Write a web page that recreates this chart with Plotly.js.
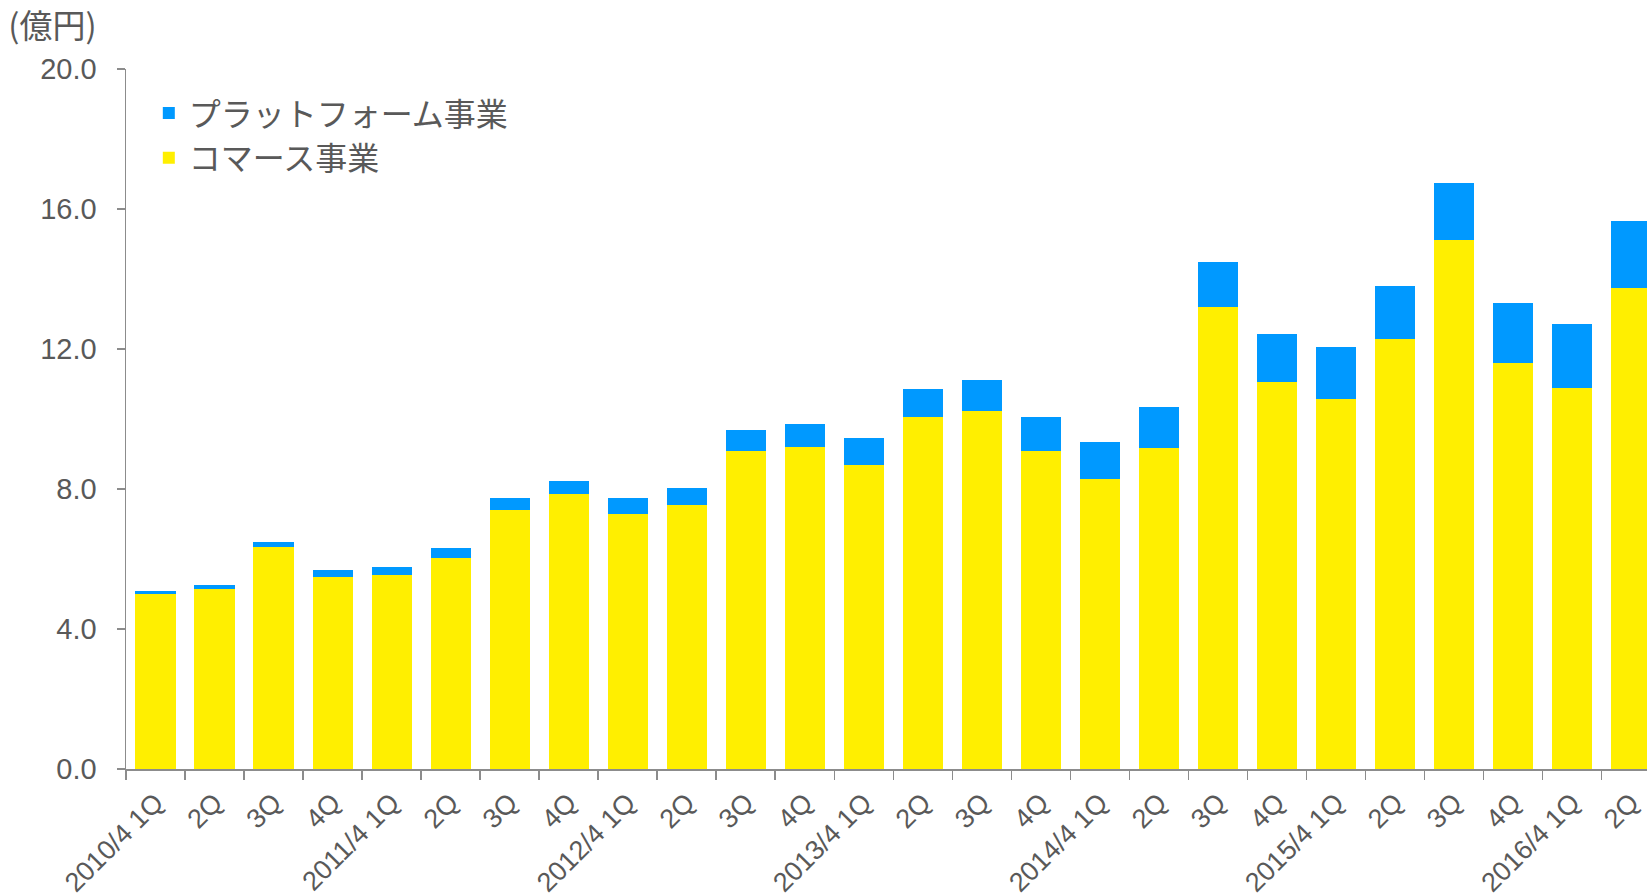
<!DOCTYPE html>
<html>
<head>
<meta charset="utf-8">
<script src="https://cdn.plot.ly/plotly-3.0.1.min.js"></script>
<style>html,body{margin:0;padding:0;background:#fff;}#chart{width:1647px;height:895px;}</style>
</head>
<body>
<div id="chart"></div>
<script>
const categories = [
  "2010/4 1Q","2010/4 2Q","2010/4 3Q","2010/4 4Q",
  "2011/4 1Q","2011/4 2Q","2011/4 3Q","2011/4 4Q",
  "2012/4 1Q","2012/4 2Q","2012/4 3Q","2012/4 4Q",
  "2013/4 1Q","2013/4 2Q","2013/4 3Q","2013/4 4Q",
  "2014/4 1Q","2014/4 2Q","2014/4 3Q","2014/4 4Q",
  "2015/4 1Q","2015/4 2Q","2015/4 3Q","2015/4 4Q",
  "2016/4 1Q","2016/4 2Q"
];
const tickLabels = [
  "2010/4 1Q","2Q","3Q","4Q",
  "2011/4 1Q","2Q","3Q","4Q",
  "2012/4 1Q","2Q","3Q","4Q",
  "2013/4 1Q","2Q","3Q","4Q",
  "2014/4 1Q","2Q","3Q","4Q",
  "2015/4 1Q","2Q","3Q","4Q",
  "2016/4 1Q","2Q"
];
const commerce = [5.0,5.15,6.33,5.5,5.53,6.02,7.4,7.85,7.28,7.53,9.08,9.2,8.7,10.05,10.22,9.1,8.3,9.18,13.2,11.07,10.58,12.3,15.12,11.6,10.88,13.73];
const platform = [0.1,0.12,0.15,0.2,0.23,0.3,0.35,0.37,0.45,0.5,0.6,0.67,0.75,0.8,0.9,0.95,1.03,1.15,1.3,1.35,1.47,1.5,1.63,1.72,1.84,1.93];
const yTicks = [0,4,8,12,16,20];

const fontLatin = "Liberation Sans, Arial, 'Noto Sans CJK JP', sans-serif";
const fontJP = "'Noto Sans CJK JP', 'Liberation Sans', sans-serif";
const textColor = "#595959";
const axisColor = "#8c8c8c";

const traces = [
  {type:"bar", name:"コマース事業", x:categories, y:commerce, marker:{color:"#FFEF00"}, legendgroup:"c"},
  {type:"bar", name:"プラットフォーム事業", x:categories, y:platform, marker:{color:"#0099FF"}, legendgroup:"p"}
];

const layout = {
  width:1647, height:895,
  margin:{l:126, r:0, t:69, b:126},
  paper_bgcolor:"#fff", plot_bgcolor:"#fff",
  barmode:"stack", bargap:0.32,
  showlegend:true,
  title:{text:"(億円)", x:0.005, xanchor:"left", xref:"container", y:0.971, yanchor:"middle", yref:"container",
         font:{family:fontJP, size:33, color:textColor}},
  legend:{x:0.015, y:0.976, xanchor:"left", yanchor:"top", bgcolor:"rgba(0,0,0,0)",
          font:{family:fontJP, size:32, color:textColor}, tracegroupgap:12, traceorder:"reversed"},
  xaxis:{type:"category", range:[-0.5, 25.27], tickson:"boundaries",
         tickvals:categories, ticktext:tickLabels, tickangle:-45,
         showline:true, linecolor:axisColor, linewidth:2, ticks:"outside", ticklen:9, tickcolor:axisColor, tickwidth:1.5,
         showgrid:false, zeroline:false, ticklabelstandoff:5,
         tickfont:{family:fontLatin, size:27, color:textColor}},
  yaxis:{range:[0,20], tickvals:yTicks, tickformat:".1f",
         showline:true, linecolor:axisColor, linewidth:1.5, ticks:"outside", ticklen:8, tickcolor:axisColor, tickwidth:1.5,
         showgrid:false, zeroline:false, ticklabelstandoff:14,
         tickfont:{family:fontLatin, size:29, color:textColor}}
};

Plotly.newPlot("chart", traces, layout, {displayModeBar:false, staticPlot:true});
</script>
</body>
</html>
